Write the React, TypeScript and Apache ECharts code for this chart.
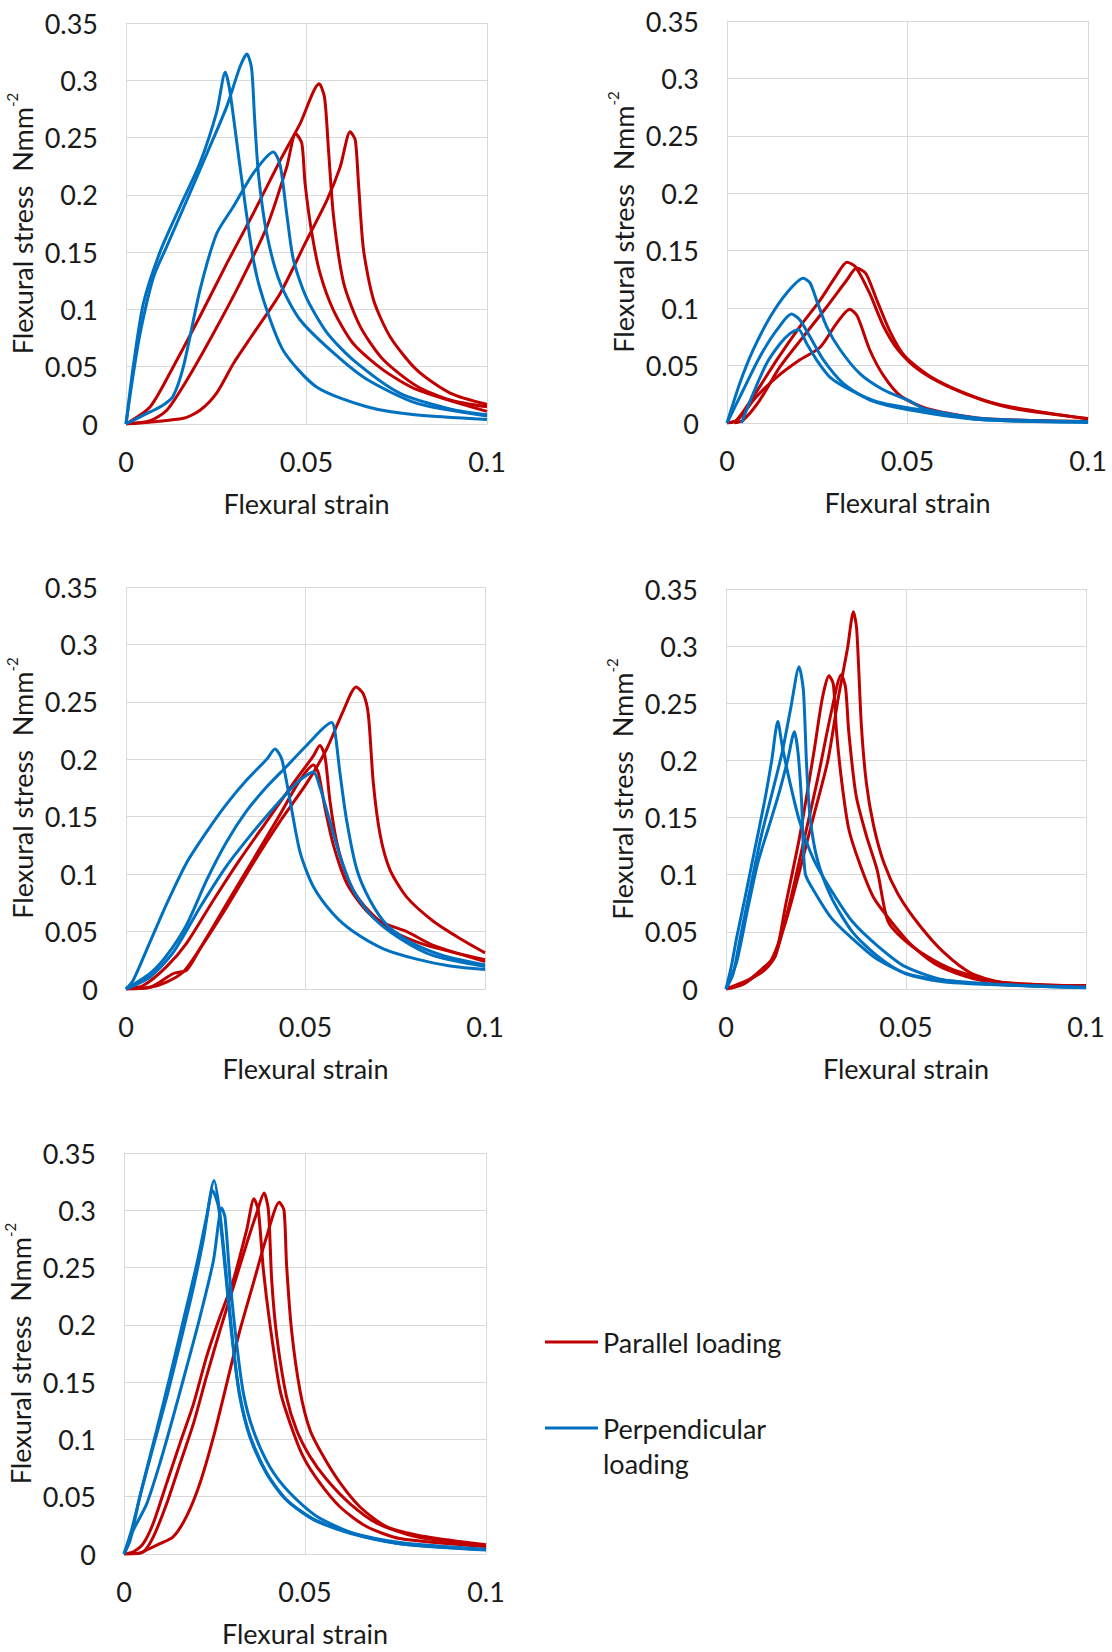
import React, { useEffect, useRef } from 'react';
import * as echarts from 'echarts';

type Pt = [number, number];

// ---- axis ticks ----
const X_MIN = 0, X_MAX = 0.1, X_STEP = 0.05;
const Y_MIN = 0, Y_MAX = 0.35, Y_STEP = 0.05;
const xTitle = 'Flexural strain';
const yTitle = 'Flexural stress  Nmm';
const ySup = '-2';
const legendParallel = 'Parallel loading';
const legendPerp = ['Perpendicular', 'loading'];

// ---- panel 1 ----
const p1Red1: Pt[] = [[0,0],[0.0067,0.015],[0.0131,0.05],[0.0205,0.094],[0.0279,0.14],[0.0353,0.184],[0.0427,0.23],[0.0482,0.262],[0.0535,0.297],[0.055,0.285],[0.0561,0.239],[0.0575,0.181],[0.0603,0.123],[0.0649,0.085],[0.0713,0.056],[0.0806,0.033],[0.0898,0.021],[0.1,0.015]];
const p1Red2: Pt[] = [[0,0],[0.0067,0.003],[0.0113,0.012],[0.0168,0.038],[0.0242,0.079],[0.0316,0.123],[0.039,0.172],[0.0445,0.224],[0.047,0.2535],[0.0487,0.245],[0.0496,0.21],[0.0515,0.166],[0.0538,0.131],[0.0575,0.099],[0.063,0.07],[0.0713,0.047],[0.0806,0.03],[0.1,0.011]];
const p1Red3: Pt[] = [[0,0],[0.0159,0.005],[0.0205,0.012],[0.0251,0.027],[0.0298,0.053],[0.0353,0.079],[0.0427,0.114],[0.05,0.16],[0.0556,0.195],[0.0593,0.224],[0.0621,0.255],[0.0635,0.248],[0.0644,0.21],[0.0658,0.152],[0.0686,0.108],[0.0732,0.076],[0.0806,0.047],[0.0898,0.027],[0.1,0.017]];
const p1Blue1: Pt[] = [[0,0],[0.002,0.05],[0.0048,0.105],[0.0094,0.15],[0.015,0.19],[0.0205,0.228],[0.0251,0.272],[0.0275,0.307],[0.0288,0.29],[0.0316,0.224],[0.0353,0.143],[0.0381,0.108],[0.0436,0.064],[0.0529,0.032],[0.0667,0.015],[0.08,0.008],[0.1,0.004]];
const p1Blue2: Pt[] = [[0,0],[0.0016,0.035],[0.0039,0.079],[0.0076,0.128],[0.0113,0.155],[0.0168,0.195],[0.0224,0.236],[0.0279,0.277],[0.0316,0.312],[0.0335,0.323],[0.0348,0.31],[0.0356,0.268],[0.0367,0.218],[0.039,0.166],[0.0427,0.123],[0.0482,0.091],[0.0575,0.062],[0.0667,0.039],[0.0806,0.018],[0.1,0.007]];
const p1Blue3: Pt[] = [[0,0],[0.005,0.008],[0.01,0.016],[0.013,0.024],[0.0159,0.05],[0.0205,0.117],[0.0251,0.166],[0.0298,0.19],[0.0353,0.219],[0.0408,0.2375],[0.0427,0.226],[0.0445,0.184],[0.0464,0.143],[0.05,0.11],[0.0556,0.08],[0.0629,0.056],[0.0758,0.027],[0.09,0.013],[0.1,0.008]];

// ---- panel 2 ----
const p2Red1: Pt[] = [[0,0],[0.0027,0.0026],[0.0073,0.023],[0.0138,0.055],[0.0202,0.084],[0.0258,0.107],[0.0304,0.129],[0.0332,0.14],[0.0356,0.136],[0.0395,0.113],[0.0434,0.084],[0.0473,0.064],[0.0532,0.046],[0.061,0.032],[0.0707,0.02],[0.0805,0.012],[0.1,0.004]];
const p2Red2: Pt[] = [[0.002,0],[0.0045,0.0026],[0.0091,0.02],[0.0147,0.049],[0.0211,0.075],[0.0276,0.101],[0.0332,0.1245],[0.0359,0.135],[0.0385,0.13],[0.0415,0.107],[0.0454,0.078],[0.0493,0.058],[0.0561,0.041],[0.0659,0.026],[0.0756,0.016],[0.1,0.0035]];
const p2Red3: Pt[] = [[0,0],[0.0027,0.002],[0.0082,0.023],[0.0138,0.04],[0.0202,0.055],[0.0258,0.066],[0.0304,0.087],[0.034,0.099],[0.0361,0.093],[0.0395,0.064],[0.0434,0.041],[0.0483,0.023],[0.0561,0.012],[0.0707,0.004],[0.1,0.0015]];
const p2Blue1: Pt[] = [[0,0],[0.0036,0.035],[0.0073,0.064],[0.0119,0.092],[0.0165,0.113],[0.0211,0.126],[0.023,0.122],[0.0248,0.107],[0.0276,0.084],[0.0313,0.064],[0.0368,0.043],[0.0433,0.029],[0.0507,0.019],[0.055,0.012],[0.0707,0.004],[0.1,0.001]];
const p2Blue2: Pt[] = [[0,0],[0.0045,0.0287],[0.0091,0.0577],[0.0138,0.081],[0.0179,0.095],[0.0202,0.0897],[0.023,0.075],[0.0267,0.055],[0.0322,0.0345],[0.0396,0.02],[0.0507,0.0113],[0.07,0.003],[0.1,0.0005]];
const p2Blue3: Pt[] = [[0.004,0],[0.0073,0.026],[0.011,0.052],[0.0147,0.069],[0.0175,0.078],[0.0198,0.0815],[0.0221,0.069],[0.0248,0.055],[0.0285,0.04],[0.034,0.029],[0.0415,0.0185],[0.0507,0.0128],[0.055,0.011],[0.07,0.003],[0.1,0.001]];

// ---- panel 3 ----
const p3Red1: Pt[] = [[0,0],[0.0067,0.0015],[0.0113,0.006],[0.016,0.015],[0.0206,0.035],[0.028,0.071],[0.0355,0.11],[0.0429,0.146],[0.0503,0.179],[0.0559,0.209],[0.0605,0.242],[0.0641,0.263],[0.0661,0.257],[0.0675,0.239],[0.0689,0.179],[0.0708,0.134],[0.0735,0.104],[0.0782,0.08],[0.0856,0.059],[0.093,0.044],[0.1,0.0315]];
const p3Red2: Pt[] = [[0,0],[0.0048,0.003],[0.0113,0.0195],[0.0169,0.04],[0.0243,0.077],[0.0318,0.113],[0.0392,0.146],[0.0466,0.179],[0.0522,0.203],[0.054,0.212],[0.0554,0.203],[0.0568,0.164],[0.0587,0.128],[0.0615,0.098],[0.0652,0.077],[0.0708,0.059],[0.0782,0.05],[0.0856,0.038],[0.1,0.024]];
const p3Red3: Pt[] = [[0,0],[0.0067,0.0015],[0.0132,0.0135],[0.0169,0.0165],[0.0206,0.035],[0.028,0.074],[0.0355,0.113],[0.0429,0.152],[0.0485,0.182],[0.0522,0.195],[0.0536,0.188],[0.0554,0.158],[0.0578,0.125],[0.0615,0.092],[0.067,0.068],[0.0745,0.05],[0.0838,0.038],[0.1,0.0255]];
const p3Blue1: Pt[] = [[0,0],[0.002,0.0075],[0.0067,0.041],[0.0113,0.074],[0.0169,0.11],[0.0225,0.137],[0.028,0.161],[0.0336,0.182],[0.0392,0.2],[0.0415,0.209],[0.0434,0.2],[0.0457,0.164],[0.0485,0.119],[0.0522,0.089],[0.0578,0.065],[0.0633,0.05],[0.0717,0.035],[0.081,0.026],[0.0903,0.02],[0.1,0.017]];
const p3Blue2: Pt[] = [[0,0],[0.0067,0.0135],[0.0113,0.029],[0.0169,0.056],[0.0225,0.095],[0.028,0.128],[0.0336,0.155],[0.0392,0.176],[0.0448,0.194],[0.0503,0.212],[0.0573,0.232],[0.0582,0.224],[0.0596,0.188],[0.0615,0.146],[0.0643,0.104],[0.068,0.077],[0.0726,0.056],[0.0791,0.041],[0.0884,0.029],[0.1,0.021]];
const p3Blue3: Pt[] = [[0,0],[0.0067,0.0105],[0.0132,0.032],[0.0206,0.071],[0.028,0.107],[0.0355,0.137],[0.0429,0.164],[0.0485,0.182],[0.0522,0.189],[0.054,0.176],[0.0568,0.146],[0.0596,0.116],[0.0633,0.086],[0.0689,0.062],[0.0763,0.044],[0.0856,0.029],[0.1,0.0195]];

// ---- panel 4 ----
const p4Red1: Pt[] = [[0,0],[0.0049,0.0045],[0.0088,0.0135],[0.0127,0.026],[0.0166,0.059],[0.0205,0.104],[0.0244,0.152],[0.0283,0.2],[0.0312,0.255],[0.0337,0.297],[0.0354,0.33],[0.0363,0.315],[0.0376,0.231],[0.039,0.18],[0.041,0.143],[0.0439,0.11],[0.0478,0.083],[0.0537,0.056],[0.0605,0.032],[0.0683,0.0135],[0.079,0.0045],[0.1,0.003]];
const p4Red2: Pt[] = [[0,0],[0.0049,0.0045],[0.0107,0.0195],[0.0137,0.029],[0.0166,0.074],[0.0205,0.134],[0.0244,0.207],[0.0268,0.255],[0.0286,0.274],[0.0298,0.267],[0.0307,0.225],[0.0322,0.18],[0.0341,0.14],[0.0371,0.11],[0.041,0.08],[0.0459,0.059],[0.0517,0.038],[0.0595,0.0195],[0.0712,0.0075],[0.1,0.002]];
const p4Red3: Pt[] = [[0,0],[0.0059,0.0075],[0.0107,0.0165],[0.0137,0.029],[0.0176,0.074],[0.0215,0.128],[0.0254,0.183],[0.0293,0.243],[0.032,0.275],[0.0332,0.264],[0.0341,0.225],[0.0361,0.17],[0.039,0.134],[0.042,0.104],[0.0449,0.06],[0.0488,0.045],[0.0556,0.029],[0.0634,0.0165],[0.0761,0.006],[0.1,0.0025]];
const p4Blue1: Pt[] = [[0,0],[0.002,0.0135],[0.0039,0.044],[0.0068,0.089],[0.0098,0.134],[0.0127,0.17],[0.0156,0.207],[0.018,0.246],[0.0203,0.282],[0.0215,0.261],[0.0224,0.195],[0.0234,0.149],[0.0254,0.113],[0.0293,0.08],[0.0351,0.05],[0.042,0.029],[0.0498,0.0135],[0.0615,0.006],[0.1,0.0015]];
const p4Blue2: Pt[] = [[0,0],[0.0015,0.02],[0.0029,0.044],[0.0049,0.074],[0.0078,0.119],[0.0107,0.164],[0.0127,0.2],[0.0144,0.234],[0.0156,0.213],[0.0176,0.183],[0.0205,0.146],[0.0244,0.113],[0.0293,0.086],[0.0351,0.059],[0.042,0.038],[0.0498,0.0195],[0.0615,0.0075],[0.1,0.001]];
const p4Blue3: Pt[] = [[0,0],[0.0029,0.023],[0.0059,0.068],[0.0088,0.11],[0.0117,0.14],[0.0146,0.17],[0.0171,0.2],[0.019,0.225],[0.02,0.207],[0.021,0.164],[0.022,0.101],[0.0244,0.086],[0.0293,0.062],[0.0351,0.044],[0.042,0.026],[0.0517,0.012],[0.0712,0.0045],[0.1,0.0015]];

// ---- panel 5 ----
const p5Red1: Pt[] = [[0,0],[0.0026,0.002],[0.0053,0.009],[0.0081,0.027],[0.0118,0.062],[0.0155,0.097],[0.0192,0.131],[0.0228,0.172],[0.0265,0.207],[0.0302,0.239],[0.0339,0.283],[0.0359,0.31],[0.0371,0.3],[0.0385,0.248],[0.0403,0.201],[0.0431,0.143],[0.0459,0.114],[0.0495,0.085],[0.0541,0.062],[0.0597,0.041],[0.067,0.024],[0.0762,0.0135],[0.1,0.0065]];
const p5Red2: Pt[] = [[0,0],[0.0053,0.002],[0.0081,0.015],[0.0118,0.044],[0.0155,0.079],[0.0192,0.114],[0.0228,0.155],[0.0265,0.195],[0.0302,0.233],[0.0339,0.271],[0.0366,0.297],[0.0387,0.315],[0.0399,0.3],[0.0408,0.239],[0.0422,0.19],[0.0449,0.137],[0.0477,0.108],[0.0514,0.085],[0.056,0.065],[0.0624,0.044],[0.0698,0.027],[0.0808,0.015],[0.1,0.007]];
const p5Red3: Pt[] = [[0,0],[0.0044,0.0006],[0.0063,0.0035],[0.0099,0.009],[0.0136,0.015],[0.0173,0.033],[0.021,0.062],[0.0247,0.102],[0.0284,0.149],[0.032,0.195],[0.0357,0.236],[0.0394,0.277],[0.0429,0.307],[0.0442,0.3],[0.0449,0.253],[0.0463,0.195],[0.0486,0.143],[0.0514,0.108],[0.0551,0.085],[0.0597,0.062],[0.0652,0.041],[0.0725,0.024],[0.0836,0.015],[0.1,0.008]];
const p5Blue1: Pt[] = [[0,0],[0.0017,0.012],[0.0044,0.05],[0.0081,0.094],[0.0118,0.137],[0.0155,0.184],[0.0192,0.233],[0.0219,0.274],[0.0249,0.326],[0.0265,0.297],[0.0284,0.239],[0.0302,0.181],[0.032,0.137],[0.0348,0.102],[0.0394,0.07],[0.0449,0.047],[0.0523,0.03],[0.0624,0.018],[0.0762,0.009],[0.1,0.004]];
const p5Blue2: Pt[] = [[0,0],[0.0021,0.021],[0.0053,0.062],[0.009,0.108],[0.0127,0.155],[0.0164,0.204],[0.0201,0.253],[0.0228,0.294],[0.0245,0.317],[0.0261,0.303],[0.0279,0.25],[0.0298,0.19],[0.0318,0.142],[0.0346,0.105],[0.0392,0.072],[0.0447,0.048],[0.0521,0.031],[0.0622,0.019],[0.0762,0.01],[0.1,0.004]];
const p5Blue3: Pt[] = [[0,0],[0.0026,0.021],[0.0063,0.044],[0.0099,0.079],[0.0136,0.12],[0.0173,0.163],[0.021,0.207],[0.0247,0.256],[0.027,0.302],[0.0279,0.294],[0.0293,0.239],[0.0311,0.184],[0.033,0.14],[0.0357,0.108],[0.0403,0.076],[0.0459,0.053],[0.0532,0.033],[0.0634,0.018],[0.0762,0.009],[0.1,0.0035]];

const panelReds: Pt[][][] = [
  [p1Red1, p1Red2, p1Red3],
  [p2Red1, p2Red2, p2Red3],
  [p3Red1, p3Red2, p3Red3],
  [p4Red1, p4Red2, p4Red3],
  [p5Red1, p5Red2, p5Red3],
];
const panelBlues: Pt[][][] = [
  [p1Blue1, p1Blue2, p1Blue3],
  [p2Blue1, p2Blue2, p2Blue3],
  [p3Blue1, p3Blue2, p3Blue3],
  [p4Blue1, p4Blue2, p4Blue3],
  [p5Blue1, p5Blue2, p5Blue3],
];

// ---- layout (pixels) ----
const W = 1112, H = 1652;
const gridBoxes = [
  { left: 126, top: 23, width: 361, height: 401 },
  { left: 727, top: 21, width: 361, height: 402 },
  { left: 126, top: 587, width: 359, height: 402 },
  { left: 726, top: 589, width: 360, height: 400 },
  { left: 124, top: 1153, width: 362, height: 401 },
];
const RED = '#c00000';
const BLUE = '#0070c0';
const GRID_C = '#d9d9d9';
const TEXT_C = '#1a1a1a';
const FONT = 'Lato';
const FS = 27;

function buildOption() {
  const grid = gridBoxes.map((g) => ({ ...g, containLabel: false }));
  const xAxis = gridBoxes.map((_, i) => ({
    type: 'value', gridIndex: i, min: X_MIN, max: X_MAX, interval: X_STEP,
    name: xTitle, nameLocation: 'middle', nameGap: 66,
    nameTextStyle: { fontFamily: FONT, fontSize: FS, color: TEXT_C },
    axisLine: { show: true, lineStyle: { color: GRID_C, width: 1 } },
    axisTick: { show: false },
    splitLine: { show: true, lineStyle: { color: GRID_C, width: 1 } },
    axisLabel: { fontFamily: FONT, fontSize: FS, color: TEXT_C, margin: 24 },
  }));
  const yAxis = gridBoxes.map((_, i) => ({
    type: 'value', gridIndex: i, min: Y_MIN, max: Y_MAX, interval: Y_STEP,
    name: `{b|${yTitle}}{s|${ySup}}`, nameLocation: 'middle', nameGap: 90,
    nameTextStyle: {
      fontFamily: FONT, fontSize: FS, color: TEXT_C,
      rich: {
        b: { fontFamily: FONT, fontSize: FS, color: TEXT_C, lineHeight: 32, verticalAlign: 'bottom' },
        s: { fontFamily: FONT, fontSize: 15, color: TEXT_C, lineHeight: 32, verticalAlign: 'top' },
      },
    },
    axisLine: { show: true, lineStyle: { color: GRID_C, width: 1 } },
    axisTick: { show: false },
    splitLine: { show: true, lineStyle: { color: GRID_C, width: 1 } },
    axisLabel: { fontFamily: FONT, fontSize: FS, color: TEXT_C, margin: 28 },
  }));
  const series: any[] = [];
  for (let i = 0; i < gridBoxes.length; i++) {
    panelReds[i].forEach((d) => series.push({
      type: 'line', name: legendParallel, xAxisIndex: i, yAxisIndex: i, data: d,
      showSymbol: false, smooth: 0.25,
      lineStyle: { color: RED, width: 3 }, itemStyle: { color: RED },
    }));
    panelBlues[i].forEach((d) => series.push({
      type: 'line', name: legendPerp.join(' '), xAxisIndex: i, yAxisIndex: i, data: d,
      showSymbol: false, smooth: 0.25,
      lineStyle: { color: BLUE, width: 3 }, itemStyle: { color: BLUE },
    }));
  }
  const tStyle = { fontFamily: FONT, fontSize: FS, fill: TEXT_C, verticalAlign: 'middle', align: 'left' };
  const graphic = [
    { type: 'line', shape: { x1: 545, y1: 1342, x2: 598, y2: 1342 }, style: { stroke: RED, lineWidth: 3 } },
    { type: 'text', x: 603, y: 1342, style: { ...tStyle, text: legendParallel } },
    { type: 'line', shape: { x1: 545, y1: 1428, x2: 598, y2: 1428 }, style: { stroke: BLUE, lineWidth: 3 } },
    { type: 'text', x: 603, y: 1428, style: { ...tStyle, text: legendPerp[0] } },
    { type: 'text', x: 603, y: 1463, style: { ...tStyle, text: legendPerp[1] } },
  ];
  return { animation: false, backgroundColor: '#ffffff', grid, xAxis, yAxis, series, graphic };
}

export default function App() {
  const ref = useRef<HTMLDivElement | null>(null);
  useEffect(() => {
    if (!ref.current) return;
    const chart = echarts.init(ref.current, undefined, { renderer: 'svg', width: W, height: H });
    chart.setOption(buildOption() as any);
    return () => chart.dispose();
  }, []);
  return (
    <div ref={ref} style={{ position: 'absolute', left: 0, top: 0, width: W, height: H, background: '#fff' }} />
  );
}
